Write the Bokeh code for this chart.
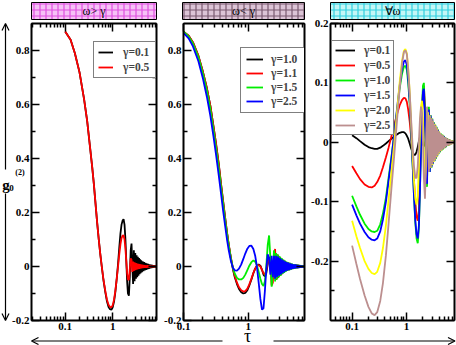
from bokeh.plotting import figure
from bokeh.models import Range1d, FixedTicker, LinearAxis, LogAxis, Arrow, OpenHead
from bokeh.layouts import row, column
from bokeh.embed import file_html
from bokeh.resources import INLINE
from bokeh.core.properties import value

SERIF = "Liberation Serif"

# ---------------- data ----------------
TITLES = ["ω> γ", "ω< γ", "∀ω"]
X_TITLE = "τ"
Y_TITLE, Y_SUB, Y_SUP = "g", "0", "(2)"

P1_TAU = [0.1, 0.13, 0.16, 0.2, 0.25, 0.29, 0.33, 0.37, 0.4, 0.43, 0.47, 0.51, 0.55, 0.59, 0.64, 0.7,
          0.76, 0.82, 0.88, 0.94, 1.0, 1.07, 1.14, 1.22, 1.3, 1.38, 1.46, 1.54, 1.62, 1.7, 1.78, 1.86,
          1.94, 2.02, 2.1, 2.2, 2.3, 2.4, 2.5, 2.6, 2.7, 2.8, 2.9, 3.0, 3.1, 3.2, 3.3, 3.4, 3.5, 3.6,
          3.7, 3.8, 3.9, 4.0, 4.15, 4.3, 4.45, 4.6, 4.75, 4.9, 5.05, 5.2, 5.4, 5.6, 5.8, 6.0, 6.2, 6.4,
          6.6, 6.8, 7.0, 7.25, 7.5, 7.75, 8.0, 8.4]
P1_LABELS = ["γ=0.1", "γ=0.5"]
P1_G_01 = [0.87, 0.84, 0.79, 0.72, 0.62, 0.54, 0.45, 0.37, 0.31, 0.245, 0.165, 0.10, 0.045, 0.0, -0.05,
           -0.095, -0.13, -0.15, -0.158, -0.16, -0.152, -0.13, -0.095, -0.045, 0.01, 0.07, 0.122, 0.155,
           0.17, 0.175, 0.155, 0.1, 0.02, -0.055, -0.1, -0.108, -0.04, 0.06, 0.085, 0.0, -0.065, 0.06,
           -0.055, 0.05, -0.045, 0.042, -0.04, 0.036, -0.034, 0.031, -0.029, 0.027, -0.025, 0.023, -0.021,
           0.019, -0.017, 0.016, -0.015, 0.014, -0.013, 0.012, -0.011, 0.01, -0.009, 0.008, -0.007, 0.007,
           -0.006, 0.006, -0.005, 0.005, -0.004, 0.004, -0.003, 0.003]
P1_G_05 = [0.87, 0.84, 0.79, 0.72, 0.62, 0.54, 0.45, 0.37, 0.31, 0.245, 0.165, 0.10, 0.045, 0.0, -0.048,
           -0.09, -0.123, -0.142, -0.15, -0.151, -0.144, -0.123, -0.09, -0.045, 0.0, 0.045, 0.082, 0.105,
           0.114, 0.115, 0.1, 0.065, 0.02, -0.025, -0.048, -0.05, -0.01, 0.03, 0.025, -0.02, 0.018, -0.016,
           0.015, -0.014, 0.013, -0.012, 0.011, -0.01, 0.01, -0.009, 0.009, -0.008, 0.008, -0.007, 0.007,
           -0.006, 0.006, -0.005, 0.005, -0.005, 0.004, -0.004, 0.004, -0.003, 0.003, -0.003, 0.003, -0.002,
           0.002, -0.002, 0.002, -0.001, 0.001, -0.001, 0.001, 0.0]

P2_TAU = [0.1, 0.12, 0.14, 0.17, 0.2, 0.23, 0.26, 0.29, 0.32, 0.35, 0.38, 0.41, 0.44, 0.47, 0.5, 0.54,
          0.58, 0.62, 0.67, 0.72, 0.78, 0.84, 0.9, 0.97, 1.04, 1.12, 1.2, 1.28, 1.36, 1.45, 1.54, 1.63,
          1.72, 1.81, 1.9, 2.0, 2.1, 2.2, 2.3, 2.4, 2.5, 2.6, 2.7, 2.8, 2.9, 3.0, 3.1, 3.2, 3.3, 3.4, 3.5,
          3.6, 3.7, 3.8, 3.9, 4.0, 4.15, 4.3, 4.45, 4.6, 4.75, 4.9, 5.05, 5.2, 5.4, 5.6, 5.8, 6.0, 6.2,
          6.4, 6.6, 6.8, 7.0, 7.25, 7.5]
P2_LABELS = ["γ=1.0", "γ=1.1", "γ=1.5", "γ=2.5"]
P2_G_10 = [0.87, 0.855, 0.83, 0.78, 0.72, 0.66, 0.595, 0.52, 0.45, 0.38, 0.305, 0.24, 0.18, 0.125, 0.08,
           0.03, -0.01, -0.04, -0.065, -0.083, -0.095, -0.1, -0.098, -0.088, -0.07, -0.048, -0.025, -0.008,
           0.003, 0.007, 0.003, -0.012, -0.03, -0.037, -0.025, 0.01, 0.035, 0.02, -0.03, -0.045, 0.0, 0.045,
           0.02, -0.045, 0.04, -0.035, 0.032, -0.03, 0.027, -0.025, 0.022, -0.02, 0.018, -0.016, 0.015,
           -0.014, 0.013, -0.012, 0.011, -0.01, 0.009, -0.008, 0.007, -0.007, 0.006, -0.005, 0.005, -0.004,
           0.004, -0.003, 0.003, -0.003, 0.002, -0.002, 0.001]
P2_G_11 = [0.87, 0.855, 0.83, 0.78, 0.72, 0.66, 0.595, 0.52, 0.45, 0.38, 0.305, 0.24, 0.18, 0.127, 0.082,
           0.033, -0.006, -0.035, -0.06, -0.077, -0.088, -0.093, -0.091, -0.082, -0.066, -0.045, -0.024,
           -0.008, 0.002, 0.005, 0.0, -0.012, -0.025, -0.03, -0.015, 0.015, 0.03, 0.0, -0.07, -0.06, 0.03,
           0.065, -0.05, 0.045, -0.042, 0.038, -0.035, 0.032, -0.029, 0.026, -0.024, 0.022, -0.02, 0.018,
           -0.016, 0.015, -0.014, 0.013, -0.012, 0.011, -0.01, 0.009, -0.008, 0.007, -0.006, 0.006, -0.005,
           0.005, -0.004, 0.004, -0.003, 0.003, -0.002, 0.002, -0.001]
P2_G_15 = [0.87, 0.852, 0.826, 0.775, 0.713, 0.65, 0.583, 0.508, 0.435, 0.365, 0.293, 0.23, 0.17, 0.12,
           0.077, 0.03, -0.005, -0.027, -0.042, -0.048, -0.048, -0.042, -0.03, -0.013, 0.003, 0.016, 0.022,
           0.018, 0.005, -0.02, -0.045, -0.065, -0.072, -0.055, 0.0, 0.08, 0.115, 0.03, -0.075, -0.02, 0.06,
           -0.055, 0.05, -0.048, 0.044, -0.04, 0.037, -0.034, 0.031, -0.028, 0.026, -0.024, 0.022, -0.02,
           0.018, -0.016, 0.015, -0.014, 0.013, -0.012, 0.011, -0.01, 0.009, -0.008, 0.007, -0.006, 0.006,
           -0.005, 0.005, -0.004, 0.004, -0.003, 0.003, -0.002, 0.002]
P2_G_25 = [0.865, 0.845, 0.815, 0.76, 0.695, 0.628, 0.558, 0.483, 0.41, 0.338, 0.27, 0.205, 0.15, 0.1,
           0.06, 0.02, -0.005, -0.014, -0.015, -0.008, 0.008, 0.028, 0.048, 0.066, 0.076, 0.077, 0.065, 0.04,
           0.0, -0.06, -0.12, -0.16, -0.155, -0.09, -0.01, 0.045, 0.03, -0.03, 0.04, -0.04, 0.04, -0.045,
           0.04, -0.04, 0.037, -0.034, 0.031, -0.029, 0.027, -0.025, 0.023, -0.021, 0.019, -0.017, 0.016,
           -0.015, 0.014, -0.013, 0.012, -0.011, 0.01, -0.009, 0.008, -0.007, 0.007, -0.006, 0.005, -0.005,
           0.004, -0.004, 0.003, -0.003, 0.002, -0.002, 0.001]

P3_TAU = [0.1, 0.12, 0.14, 0.17, 0.2, 0.23, 0.26, 0.29, 0.33, 0.37, 0.42, 0.47, 0.53, 0.6, 0.67, 0.75,
          0.83, 0.9, 0.96, 1.02, 1.08, 1.15, 1.22, 1.3, 1.38, 1.46, 1.54, 1.62, 1.7, 1.78, 1.86, 1.94,
          2.02, 2.1, 2.2, 2.3, 2.4, 2.5, 2.6, 2.7, 2.8, 2.9, 3.0, 3.1, 3.2, 3.3, 3.4, 3.5, 3.6, 3.7, 3.8,
          3.9, 4.0, 4.15, 4.3, 4.45, 4.6, 4.75, 4.9, 5.05, 5.2, 5.4, 5.6, 5.8, 6.0, 6.2, 6.4, 6.6, 6.8,
          7.0, 7.25, 7.5, 7.75]
P3_LABELS = ["γ=0.1", "γ=0.5", "γ=1.0", "γ=1.5", "γ=2.0", "γ=2.5"]
P3_G_01 = [0.012, 0.007, 0.002, -0.004, -0.008, -0.01, -0.011, -0.011, -0.009, -0.006, -0.002, 0.002,
           0.006, 0.01, 0.013, 0.016, 0.017, 0.017, 0.015, 0.011, 0.006, -0.002, -0.01, -0.017, -0.021,
           -0.021, -0.016, -0.008, 0.002, 0.009, 0.01, 0.004, -0.004, -0.007, -0.002, 0.005, 0.003, -0.004,
           0.003, -0.003, 0.003, -0.002, 0.002, -0.002, 0.002, -0.002, 0.002, -0.001, 0.001, -0.001, 0.001,
           -0.001, 0.001, -0.001, 0.001, -0.001, 0.001, -0.001, 0.001, 0.0, 0.0, 0.0, 0.0, 0.0, 0.0, 0.0,
           0.0, 0.0, 0.0, 0.0, 0.0, 0.0, 0.0]
P3_G_05 = [-0.04, -0.052, -0.062, -0.071, -0.075, -0.076, -0.073, -0.067, -0.056, -0.042, -0.025, -0.009,
           0.01, 0.03, 0.047, 0.062, 0.071, 0.075, 0.074, 0.068, 0.055, 0.035, 0.01, -0.025, -0.065, -0.1,
           -0.125, -0.132, -0.115, -0.06, 0.0, 0.05, 0.085, 0.095, 0.06, -0.02, -0.06, 0.04, 0.05, -0.045,
           0.042, -0.04, 0.037, -0.035, 0.032, -0.03, 0.028, -0.026, 0.024, -0.022, 0.02, -0.019, 0.017,
           -0.016, 0.014, -0.013, 0.012, -0.011, 0.01, -0.009, 0.008, -0.007, 0.006, -0.006, 0.005, -0.004,
           0.004, -0.003, 0.003, -0.002, 0.002, -0.001, 0.001]
P3_G_10 = [-0.09, -0.108, -0.122, -0.137, -0.146, -0.15, -0.151, -0.149, -0.138, -0.12, -0.093, -0.06,
           -0.025, 0.015, 0.052, 0.09, 0.115, 0.127, 0.129, 0.122, 0.1, 0.065, 0.02, -0.035, -0.09, -0.135,
           -0.162, -0.17, -0.145, -0.08, -0.005, 0.06, 0.095, 0.1, 0.05, -0.04, -0.075, 0.02, 0.06, -0.05,
           0.046, -0.043, 0.04, -0.037, 0.034, -0.032, 0.03, -0.028, 0.026, -0.024, 0.022, -0.02, 0.018,
           -0.017, 0.015, -0.014, 0.013, -0.012, 0.011, -0.01, 0.009, -0.008, 0.007, -0.006, 0.005, -0.005,
           0.004, -0.003, 0.003, -0.002, 0.002, -0.001, 0.001]
P3_G_15 = [-0.105, -0.123, -0.137, -0.151, -0.16, -0.164, -0.165, -0.162, -0.15, -0.13, -0.1, -0.065,
           -0.027, 0.015, 0.055, 0.095, 0.123, 0.136, 0.138, 0.13, 0.107, 0.07, 0.022, -0.035, -0.09,
           -0.132, -0.155, -0.162, -0.14, -0.08, -0.01, 0.05, 0.085, 0.09, 0.04, -0.045, -0.07, 0.03, 0.055,
           -0.05, 0.045, -0.042, 0.039, -0.036, 0.033, -0.031, 0.029, -0.027, 0.025, -0.023, 0.021, -0.019,
           0.017, -0.016, 0.014, -0.013, 0.012, -0.011, 0.01, -0.009, 0.008, -0.007, 0.006, -0.005, 0.005,
           -0.004, 0.003, -0.003, 0.002, -0.002, 0.001, -0.001, 0.001]
P3_G_20 = [-0.132, -0.158, -0.178, -0.2, -0.213, -0.22, -0.222, -0.218, -0.203, -0.178, -0.14, -0.097,
           -0.05, 0.0, 0.05, 0.1, 0.137, 0.154, 0.157, 0.15, 0.125, 0.085, 0.035, -0.02, -0.065, -0.095,
           -0.105, -0.09, -0.04, 0.02, 0.06, 0.07, 0.04, -0.02, -0.07, -0.04, 0.05, 0.05, -0.045, 0.045,
           -0.043, 0.04, -0.038, 0.035, -0.033, 0.031, -0.029, 0.027, -0.025, 0.023, -0.021, 0.019, -0.018,
           0.016, -0.015, 0.013, -0.012, 0.011, -0.01, 0.009, -0.008, 0.007, -0.006, 0.006, -0.005, 0.004,
           -0.004, 0.003, -0.003, 0.002, -0.002, 0.001, -0.001]
P3_G_25 = [-0.174, -0.205, -0.23, -0.258, -0.277, -0.288, -0.291, -0.286, -0.267, -0.237, -0.19, -0.137,
           -0.078, -0.02, 0.035, 0.09, 0.132, 0.152, 0.155, 0.148, 0.123, 0.085, 0.04, -0.005, -0.04, -0.06,
           -0.06, -0.04, 0.0, 0.04, 0.06, 0.05, 0.0, -0.06, -0.095, -0.03, 0.06, 0.03, -0.05, 0.045, -0.042,
           0.04, -0.037, 0.035, -0.032, 0.03, -0.028, 0.026, -0.024, 0.022, -0.02, 0.019, -0.017, 0.016,
           -0.014, 0.013, -0.012, 0.011, -0.01, 0.009, -0.008, 0.007, -0.006, 0.006, -0.005, 0.004, -0.004,
           0.003, -0.003, 0.002, -0.002, 0.001, -0.001]

X_MAJOR = [0.1, 1]
X_LABELS = {0.1: "0.1", 1: "1"}
P1_X_MINOR = [0.02, 0.03, 0.04, 0.05, 0.06, 0.07, 0.08, 0.09, 0.2, 0.3, 0.4, 0.5, 0.6, 0.7, 0.8, 0.9,
              2, 3, 4, 5, 6, 7, 8]
P2_X_MINOR = [0.2, 0.3, 0.4, 0.5, 0.6, 0.7, 0.8, 0.9, 2, 3, 4, 5, 6, 7]
P3_X_MINOR = [0.05, 0.06, 0.07, 0.08, 0.09, 0.2, 0.3, 0.4, 0.5, 0.6, 0.7, 0.8, 0.9, 2, 3, 4, 5, 6, 7]
Y12_MAJOR = [-0.2, 0, 0.2, 0.4, 0.6, 0.8]
Y12_MINOR = [-0.1, 0.1, 0.3, 0.5, 0.7]
Y12_LABELS = {-0.2: "-0.2", 0: "0", 0.2: "0.2", 0.4: "0.4", 0.6: "0.6", 0.8: "0.8"}
Y3_MAJOR = [-0.2, -0.1, 0, 0.1, 0.2]
Y3_MINOR = [-0.25, -0.15, -0.05, 0.05, 0.15]
Y3_LABELS = {-0.2: "-0.2", -0.1: "-0.1", 0: "0", 0.1: "0.1", 0.2: "0.2"}

# ---------------- style / layout ----------------
BLACK, RED, GREEN, BLUE, YELLOW, BROWN = "#000000", "#ff0000", "#00ee00", "#0000ff", "#ffff00", "#bc8f8f"
TITLE_FILLS = ["#f6c2f6", "#dcc4d6", "#c4f6f6"]
TITLE_HATCH = ["#e050e0", "#7a5a70", "#30d0e0"]
TOTAL_W, TOTAL_H = 456, 345
TOP_B, BOT_B = 23, 25
W1, BL1, BR1 = 161, 31, 5
W2, BL2, BR2 = 147, 21, 4
W3, BL3, BR3 = 148, 22, 2


def style_axis(ax, show_labels, overrides=None):
    ax.axis_line_width = 2
    ax.axis_line_color = "black"
    ax.major_tick_in = 8
    ax.major_tick_out = 0
    ax.minor_tick_in = 4
    ax.minor_tick_out = 0
    ax.major_tick_line_width = 1.5
    ax.minor_tick_line_width = 1.5
    ax.major_label_text_font = SERIF
    ax.major_label_text_font_style = "bold"
    ax.major_label_text_color = "black"
    if show_labels:
        ax.major_label_text_font_size = "11px"
        ax.major_label_standoff = 2
        if overrides:
            ax.major_label_overrides = overrides
    else:
        ax.major_label_text_font_size = "1px"
        ax.major_label_text_alpha = 0
        ax.major_label_standoff = 0


def main_panel(width, bl, br, xr, yr, x_minor, y_major, y_minor, y_labels):
    p = figure(width=width, height=TOTAL_H, x_axis_type="log",
               x_range=Range1d(*xr), y_range=Range1d(*yr),
               output_backend="svg", toolbar_location=None,
               min_border_left=bl, min_border_right=br,
               min_border_top=TOP_B, min_border_bottom=BOT_B)
    p.grid.visible = False
    p.outline_line_color = "black"
    p.outline_line_width = 1
    xt = FixedTicker(ticks=X_MAJOR, minor_ticks=x_minor)
    yt = FixedTicker(ticks=y_major, minor_ticks=y_minor)
    p.xaxis.ticker = xt
    p.yaxis.ticker = yt
    style_axis(p.xaxis[0], True, X_LABELS)
    style_axis(p.yaxis[0], True, y_labels)
    top = LogAxis(ticker=xt)
    style_axis(top, False)
    p.add_layout(top, "above")
    right = LinearAxis(ticker=yt)
    style_axis(right, False)
    p.add_layout(right, "right")
    return p


def style_legend(p, loc, glyph_w, padding, spacing, label_w, standoff):
    lg = p.legend[0]
    lg.location = loc
    lg.margin = 0
    lg.padding = padding
    lg.spacing = spacing
    lg.glyph_width = glyph_w
    lg.glyph_height = 12
    lg.label_height = 12
    lg.label_width = label_w
    lg.label_standoff = standoff
    lg.label_text_font = SERIF
    lg.label_text_font_style = "bold"
    lg.label_text_font_size = "11.5px"
    lg.border_line_color = "black"
    lg.border_line_width = 1.2
    lg.background_fill_color = "white"
    lg.background_fill_alpha = 1


# ---------------- panel 1 ----------------
p1 = main_panel(W1, BL1, BR1, (0.0195, 8.4), (-0.2, 0.9), P1_X_MINOR, Y12_MAJOR, Y12_MINOR, Y12_LABELS)
for ys, col, lab in zip([P1_G_01, P1_G_05], [BLACK, RED], P1_LABELS):
    assert len(ys) == len(P1_TAU), (lab, len(ys), len(P1_TAU))
    p1.line(P1_TAU, ys, line_color=col, line_width=1.8, legend_label=lab)
style_legend(p1, (62, 242), 15, 4, 3, 28, 10)

# ---------------- panel 2 ----------------
p2 = main_panel(W2, BL2, BR2, (0.1, 7.4), (-0.2, 0.9), P2_X_MINOR, Y12_MAJOR, Y12_MINOR, Y12_LABELS)
for ys, col, lab in zip([P2_G_10, P2_G_11, P2_G_15, P2_G_25], [BLACK, RED, GREEN, BLUE], P2_LABELS):
    assert len(ys) == len(P2_TAU), (lab, len(ys), len(P2_TAU))
    p2.line(P2_TAU, ys, line_color=col, line_width=1.8, legend_label=lab)
style_legend(p2, (57, 207), 17, 5, 2, 30, 8)

# ---------------- panel 3 ----------------
p3 = main_panel(W3, BL3, BR3, (0.04, 7.7), (-0.3, 0.2), P3_X_MINOR, Y3_MAJOR, Y3_MINOR, Y3_LABELS)
for ys, col, lab in zip([P3_G_01, P3_G_05, P3_G_10, P3_G_15, P3_G_20, P3_G_25],
                        [BLACK, RED, GREEN, BLUE, YELLOW, BROWN], P3_LABELS):
    assert len(ys) == len(P3_TAU), (lab, len(ys), len(P3_TAU))
    p3.line(P3_TAU, ys, line_color=col, line_width=1.8, legend_label=lab)
style_legend(p3, (1, 185), 20, 3, 3, 20, 9)

# ---------------- transparent overlay: title boxes, axis arrows and axis titles ----------------
# pixel coordinates of the page (x right, y down); the page has no margin in Bokeh's template
ov = figure(width=TOTAL_W, height=TOTAL_H, x_range=Range1d(0, TOTAL_W), y_range=Range1d(TOTAL_H, 0),
            output_backend="svg", toolbar_location=None,
            x_axis_location=None, y_axis_location=None,
            min_border_left=0, min_border_right=0, min_border_top=0, min_border_bottom=0)
ov.grid.visible = False
ov.outline_line_color = None
ov.background_fill_alpha = 0
ov.border_fill_alpha = 0
ov.styles = {"position": "absolute", "left": "0px", "top": "0px", "pointer-events": "none"}

frame_left = [BL1, W1 + BL2, W1 + W2 + BL3]
frame_right = [W1 - BR1, W1 + W2 - BR2, W1 + W2 + W3 - BR3]
FR_TOP = TOP_B
FR_BOT = TOTAL_H - BOT_B
BOX_TOP, BOX_BOT = 2, 19
for i in range(3):
    ov.quad(left=[frame_left[i]], right=[frame_right[i]], top=[BOX_TOP], bottom=[BOX_BOT],
            fill_color=TITLE_FILLS[i], line_color="black", line_width=1,
            hatch_pattern="+", hatch_color=TITLE_HATCH[i], hatch_scale=6, hatch_weight=1.2)
ov.text(x=[(l + r) / 2 for l, r in zip(frame_left, frame_right)], y=[(BOX_TOP + BOX_BOT) / 2] * 3,
        text=TITLES, text_font=value(SERIF), text_font_size="12px",
        text_align="center", text_baseline="middle", text_color="black")

AX_X = 5
ARR_Y = 340.5
head = dict(size=7, line_width=1.2, line_color="black")
ov.add_layout(Arrow(x_start=AX_X, y_start=169, x_end=AX_X, y_end=FR_TOP,
                    end=OpenHead(**head), line_width=1.2, line_color="black"))
ov.add_layout(Arrow(x_start=AX_X, y_start=193, x_end=AX_X, y_end=FR_BOT,
                    end=OpenHead(**head), line_width=1.2, line_color="black"))
ov.add_layout(Arrow(x_start=222, y_start=ARR_Y, x_end=frame_left[0], y_end=ARR_Y,
                    end=OpenHead(**head), line_width=1.2, line_color="black"))
ov.add_layout(Arrow(x_start=273, y_start=ARR_Y, x_end=TOTAL_W - 1.5, y_end=ARR_Y,
                    end=OpenHead(**head), line_width=1.2, line_color="black"))
ov.text(x=[AX_X + 0.5], y=[184], text=[Y_TITLE], text_font=value(SERIF), text_font_style="bold",
        text_font_size="15px", text_align="center", text_baseline="alphabetic")
ov.text(x=[11], y=[187], text=[Y_SUB], text_font=value(SERIF), text_font_style="bold",
        text_font_size="9px", text_align="center", text_baseline="middle")
ov.text(x=[19.5], y=[172], text=[Y_SUP], text_font=value(SERIF), text_font_style="bold",
        text_font_size="8px", text_align="center", text_baseline="middle")
ov.text(x=[247], y=[335], text=[X_TITLE], text_font=value(SERIF),
        text_font_size="18px", text_align="center", text_baseline="middle")

layout = column(row(p1, p2, p3), ov)

with open("out.html", "w") as f:
    f.write(file_html(layout, INLINE))
